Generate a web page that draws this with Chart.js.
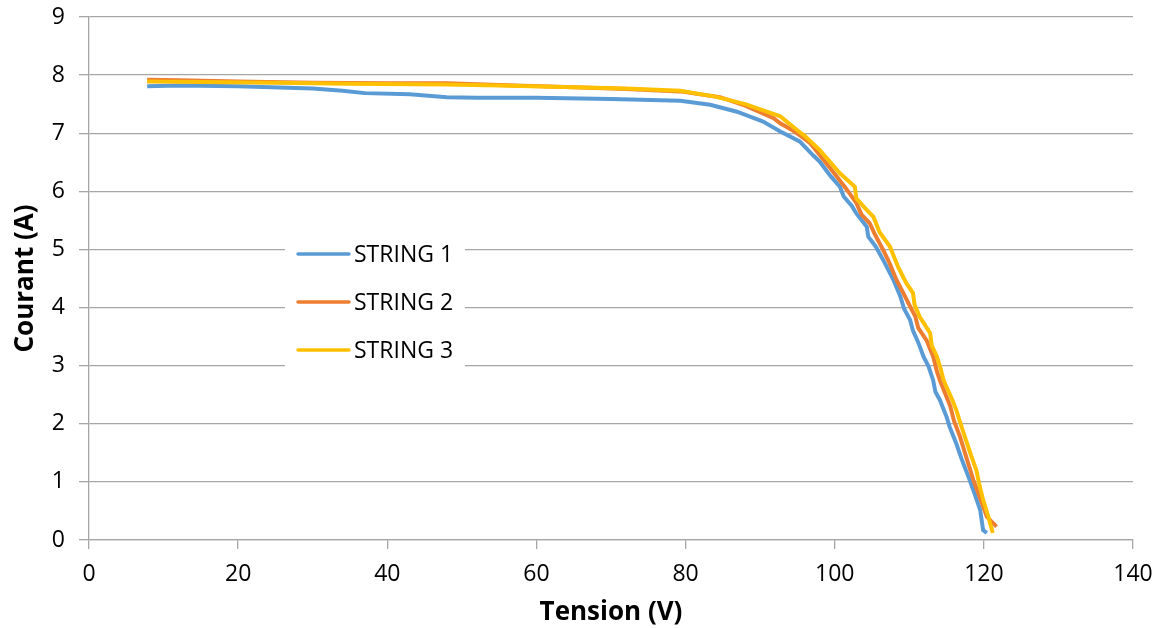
<!DOCTYPE html>
<html>
<head>
<meta charset="utf-8">
<script src="https://cdn.jsdelivr.net/npm/chart.js@4.4.1/dist/chart.umd.min.js"></script>
<style>
    html, body { margin: 0; padding: 0; background: #fff; }
    #wrap { width: 1163px; height: 628px; }
</style>
</head>
<body>
<div id="wrap"><canvas id="ivChart"></canvas></div>
<script>
// Series data (tension V, courant A)
const seriesNames = ['STRING 1', 'STRING 2', 'STRING 3'];
const seriesColors = ['#5B9BD5', '#ED7D31', '#FFC000'];

const v1 = [7.8, 12, 20, 30, 34, 37, 43, 48, 52, 60, 70, 79.3, 83.3, 86.9, 90.4, 92.7, 95.3, 97.1, 98.0, 99.4,
    100.7, 101.2, 102.3, 102.9, 104.3, 104.5, 105.5, 106.5, 107.9, 108.8, 109.3, 110.1, 110.5, 111.2, 111.9,
    112.6, 113.2, 113.5, 114.1, 115.0, 115.4, 116.3, 117.0, 118.1, 118.8, 119.5, 119.9, 120.4];
const i1 = [7.81, 7.82, 7.81, 7.77, 7.73, 7.69, 7.67, 7.62, 7.61, 7.61, 7.59, 7.56, 7.49, 7.37, 7.20, 7.03, 6.86, 6.62, 6.51, 6.27,
    6.08, 5.91, 5.75, 5.62, 5.39, 5.22, 5.05, 4.82, 4.47, 4.19, 3.98, 3.79, 3.60, 3.40, 3.16,
    2.98, 2.75, 2.55, 2.41, 2.12, 1.95, 1.66, 1.40, 1.03, 0.78, 0.52, 0.17, 0.12];

const v2 = [7.8, 12, 20, 30, 40, 48, 55, 65, 72, 79.3, 84.6, 87.7, 91.8, 92.7, 94.5, 96.2, 96.7, 98.9, 100.3,
    101.5, 102.9, 103.6, 104.7, 105.3, 106.5, 107.3, 108.3, 109.0, 110.1, 110.8, 111.2, 112.3, 113.2, 113.7,
    114.1, 115.5, 116.0, 116.8, 117.7, 118.6, 119.5, 120.4, 121.0, 121.7];
const i2 = [7.92, 7.91, 7.89, 7.87, 7.86, 7.86, 7.83, 7.79, 7.76, 7.72, 7.62, 7.49, 7.26, 7.17, 7.04, 6.88, 6.83, 6.48, 6.25,
    6.05, 5.80, 5.60, 5.45, 5.28, 4.99, 4.78, 4.47, 4.30, 4.02, 3.85, 3.65, 3.44, 3.16, 2.90,
    2.75, 2.30, 2.05, 1.78, 1.40, 1.03, 0.72, 0.40, 0.32, 0.23];

const v3 = [7.8, 15, 25, 35, 48, 55, 65, 72, 79.3, 84, 88, 92.7, 94.9, 96, 98.0, 100.7, 102.7, 102.9, 104, 105.2,
    106, 107.4, 108.5, 109.6, 110.5, 110.7, 111.4, 112.8, 113.0, 113.7, 114.2, 114.6, 115.8, 116.3, 117.0,
    117.6, 118.3, 119.0, 119.4, 119.9, 120.6, 121.2];
const i3 = [7.89, 7.88, 7.87, 7.85, 7.84, 7.82, 7.79, 7.77, 7.73, 7.63, 7.50, 7.29, 7.06, 6.95, 6.71, 6.31, 6.08, 5.88, 5.72, 5.56,
    5.30, 5.05, 4.70, 4.42, 4.25, 4.05, 3.84, 3.56, 3.35, 3.16, 2.95, 2.75, 2.40, 2.24, 1.95,
    1.72, 1.45, 1.20, 0.95, 0.69, 0.40, 0.12];

const xTicks = [0, 20, 40, 60, 80, 100, 120, 140];
const yTicks = [0, 1, 2, 3, 4, 5, 6, 7, 8, 9];

const toPoints = (xs, ys) => xs.map((x, k) => ({ x: x, y: ys[k] }));
const allV = [v1, v2, v3];
const allI = [i1, i2, i3];

const gridColor = '#a6a6a6';
const tickFont = { family: 'Open Sans', size: 23 };
const titleFont = { family: 'Open Sans', size: 26, weight: 'bold' };

// Legend drawn inside the plot on a white box, like the original
const insideLegend = {
    id: 'insideLegend',
    afterDraw(chart) {
        const ctx = chart.ctx;
        ctx.save();
        ctx.fillStyle = '#fff';
        ctx.fillRect(285, 236, 180, 138);
        ctx.font = '23px "Open Sans"';
        ctx.textBaseline = 'middle';
        ctx.textAlign = 'left';
        chart.data.datasets.forEach((ds, k) => {
            const y = 254 + k * 48;
            ctx.strokeStyle = ds.borderColor;
            ctx.lineWidth = 3.5;
            ctx.lineCap = 'round';
            ctx.beginPath();
            ctx.moveTo(298, y);
            ctx.lineTo(349, y);
            ctx.stroke();
            ctx.fillStyle = '#000';
            ctx.fillText(ds.label, 354, y + 1);
        });
        ctx.restore();
    }
};

document.addEventListener('DOMContentLoaded', function() {
    const ctx = document.getElementById('ivChart').getContext('2d');
    new Chart(ctx, {
        type: 'line',
        data: {
            datasets: seriesNames.map((name, k) => ({
                label: name,
                data: toPoints(allV[k], allI[k]),
                borderColor: seriesColors[k],
                backgroundColor: seriesColors[k],
                borderWidth: 4,
                pointRadius: 0,
                tension: 0,
                fill: false,
                order: 3 - k
            }))
        },
        options: {
            responsive: true,
            maintainAspectRatio: false,
            animation: false,
            layout: { padding: { left: 0, right: 30, top: 17, bottom: 0 } },
            plugins: {
                legend: { display: false },
                tooltip: { enabled: false }
            },
            scales: {
                x: {
                    type: 'linear',
                    min: 0,
                    max: 140,
                    afterBuildTicks: s => { s.ticks = xTicks.map(v => ({ value: v })); },
                    afterFit: s => { s.height = 88; s.paddingLeft = 0; s.paddingRight = 0; },
                    grid: { drawOnChartArea: false, drawTicks: true, tickLength: 9, color: gridColor, lineWidth: 1.3 },
                    border: { color: gridColor, width: 1.3 },
                    ticks: { color: '#000', font: tickFont, padding: 12, maxRotation: 0 },
                    title: { display: true, text: 'Tension (V)', color: '#000', font: titleFont, padding: { top: 0, bottom: 0 } }
                },
                y: {
                    type: 'linear',
                    min: 0,
                    max: 9,
                    afterBuildTicks: s => { s.ticks = yTicks.map(v => ({ value: v })); },
                    afterFit: s => { s.width = 89; s.paddingTop = 0; s.paddingBottom = 0; },
                    grid: { color: gridColor, lineWidth: 1.3, tickLength: 10 },
                    border: { color: gridColor, width: 1.3 },
                    ticks: { color: '#000', font: tickFont, padding: 14 },
                    title: { display: true, text: 'Courant (A)', color: '#000', font: titleFont, padding: { top: 10, bottom: 0 } }
                }
            }
        },
        plugins: [insideLegend]
    });
});
</script>
</body>
</html>
